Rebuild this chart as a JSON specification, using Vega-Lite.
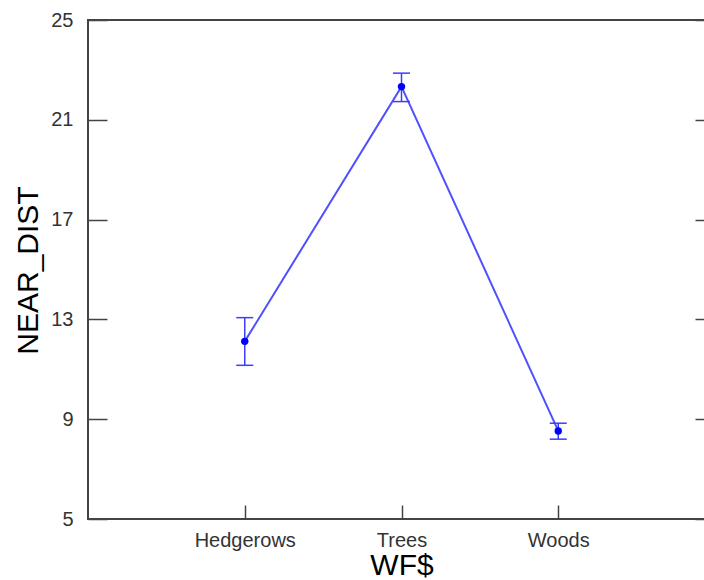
{
  "$schema": "https://vega.github.io/schema/vega-lite/v6.json",
  "autosize": "none",
  "width": 627,
  "height": 499,
  "padding": {"left": 88, "top": 20, "right": 0, "bottom": 61},
  "background": "white",
  "config": {
    "view": {"stroke": "#444444", "strokeWidth": 2},
    "font": "Liberation Sans"
  },
  "data": {
    "values": [
      {"WF": "Hedgerows", "mean": 12.12, "lo": 11.16, "hi": 13.07},
      {"WF": "Trees", "mean": 22.33, "lo": 21.73, "hi": 22.87},
      {"WF": "Woods", "mean": 8.53, "lo": 8.2, "hi": 8.84}
    ]
  },
  "encoding": {
    "x": {
      "field": "WF",
      "type": "nominal",
      "sort": ["Hedgerows", "Trees", "Woods"],
      "scale": {"type": "point", "padding": 1},
      "axis": {
        "title": "WF$",
        "domain": false,
        "grid": false,
        "labelAngle": 0,
        "tickSize": -14,
        "tickColor": "#444444",
        "tickWidth": 1.5,
        "labelPadding": 25,
        "labelFontSize": 20,
        "labelColor": "#333333",
        "titleFontSize": 30,
        "titleFontWeight": "normal",
        "titleColor": "#000000",
        "titleY": 55,
        "titleBaseline": "alphabetic"
      }
    }
  },
  "resolve": {"axis": {"y": "independent"}},
  "layer": [
    {
      "mark": {"type": "line", "color": "#5050ff", "strokeWidth": 2},
      "encoding": {
        "y": {
          "field": "mean",
          "type": "quantitative",
          "scale": {"domain": [5, 25], "nice": false, "zero": false},
          "axis": {
            "title": "NEAR_DIST",
            "orient": "left",
            "values": [5, 9, 13, 17, 21, 25],
            "domain": false,
            "grid": false,
            "tickSize": -19,
            "tickColor": "#444444",
            "tickWidth": 1.5,
            "labelPadding": 34,
            "labelFontSize": 20,
            "labelColor": "#333333",
            "titleFontSize": 30,
            "titleFontWeight": "normal",
            "titleColor": "#000000",
            "titleX": -60,
            "titleY": 250,
            "titleAlign": "center",
            "titleBaseline": "middle"
          }
        }
      }
    },
    {
      "mark": {"type": "rule", "color": "#3c3cff", "strokeWidth": 1.5},
      "encoding": {
        "y": {"field": "lo", "type": "quantitative"},
        "y2": {"field": "hi"}
      }
    },
    {
      "mark": {"type": "tick", "color": "#3c3cff", "orient": "horizontal", "size": 17, "thickness": 1.5, "opacity": 1},
      "encoding": {"y": {"field": "lo", "type": "quantitative"}}
    },
    {
      "mark": {"type": "tick", "color": "#3c3cff", "orient": "horizontal", "size": 17, "thickness": 1.5, "opacity": 1},
      "encoding": {"y": {"field": "hi", "type": "quantitative"}}
    },
    {
      "mark": {"type": "point", "filled": true, "color": "#0000ff", "size": 55, "opacity": 1},
      "encoding": {
        "y": {
          "field": "mean",
          "type": "quantitative",
          "axis": {
            "orient": "right",
            "title": null,
            "labels": false,
            "values": [5, 9, 13, 17, 21, 25],
            "domain": false,
            "grid": false,
            "tickSize": -20,
            "tickColor": "#444444",
            "tickWidth": 1.5
          }
        }
      }
    }
  ]
}
